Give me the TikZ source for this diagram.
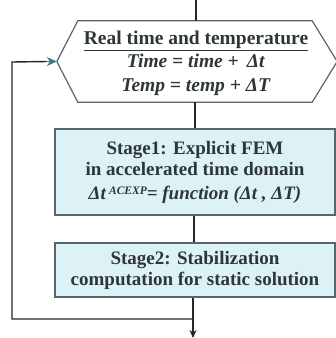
\documentclass[tikz,border=0pt]{standalone}
\usepackage{fontspec}
\setmainfont{Liberation Serif}
\usetikzlibrary{arrows.meta,calc}
\definecolor{boxfill}{HTML}{DDF2F7}
\definecolor{edgec}{HTML}{55666C}
\definecolor{txt}{HTML}{2E3638}
\definecolor{tealarr}{HTML}{3E7A80}
\tikzset{
  stagebox/.style={draw=edgec, line width=1.2pt, fill=boxfill, minimum width=280pt, inner sep=0pt, align=center, text=txt, font=\fontsize{19}{21}\selectfont\bfseries},
  conn/.style={draw=black!85, line width=1.4pt},
  hexbox/.style={minimum width=234pt, minimum height=81pt, inner sep=0pt},
  hextext/.style={align=center, text=txt, font=\fontsize{19.5}{23.5}\selectfont\bfseries}
}
\begin{document}
\begin{tikzpicture}[x=1pt,y=1pt]
\useasboundingbox (0,0) rectangle (336,-338);
\node[hexbox] (hex) at (195,-61.5) {};
\coordinate (hexL) at ($(hex.west)+(-21,0)$);
\coordinate (hexR) at ($(hex.east)+(25,0)$);
\draw[draw=edgec, line width=1.2pt, fill=white] (hex.north west) -- (hex.north east) -- (hexR) -- (hex.south east) -- (hex.south west) -- (hexL) -- cycle;
\node[hextext] (hext) at (196,-63) {\underline{Real time and temperature}\\\textit{Time = time +\, Δt}\\\textit{Temp = temp + ΔT}};
\node[stagebox, minimum height=86pt] (s1) at (195,-172) {Stage1: Explicit FEM\\in accelerated time domain\\[3pt]\textit{Δt\,\raisebox{0.55ex}{\fontsize{11.5}{12}\selectfont ACEXP}= function (Δt , ΔT)}};
\node[stagebox, minimum height=54pt] (s2) at (195,-270) {Stage2: Stabilization\\computation for static solution};
\coordinate (top) at (196,0);
\coordinate (bot) at (193,-338);
\coordinate (loopB) at (193,-319);
\coordinate (loopBL) at (12,-319);
\coordinate (loopTL) at (12,-62);
\draw[conn] (top) -- (top|-hex.north);
\draw[conn] (hex.south) -- (s1.north);
\draw[conn] (s1.south -| 194,0) -- (s2.north -| 194,0);
\draw[conn, -{Stealth[length=8pt,width=7pt]}] (s2.south -| bot) -- (bot);
\draw[conn] (loopB) -- (loopBL) -- (loopTL) -- ($(hexL)+(-10,0)$);
\draw[draw=tealarr, line width=1.4pt, -{Stealth[length=10pt,width=9pt,fill=tealarr]}] ($(hexL)+(-11,0)$) -- (hexL);
\end{tikzpicture}
\end{document}
